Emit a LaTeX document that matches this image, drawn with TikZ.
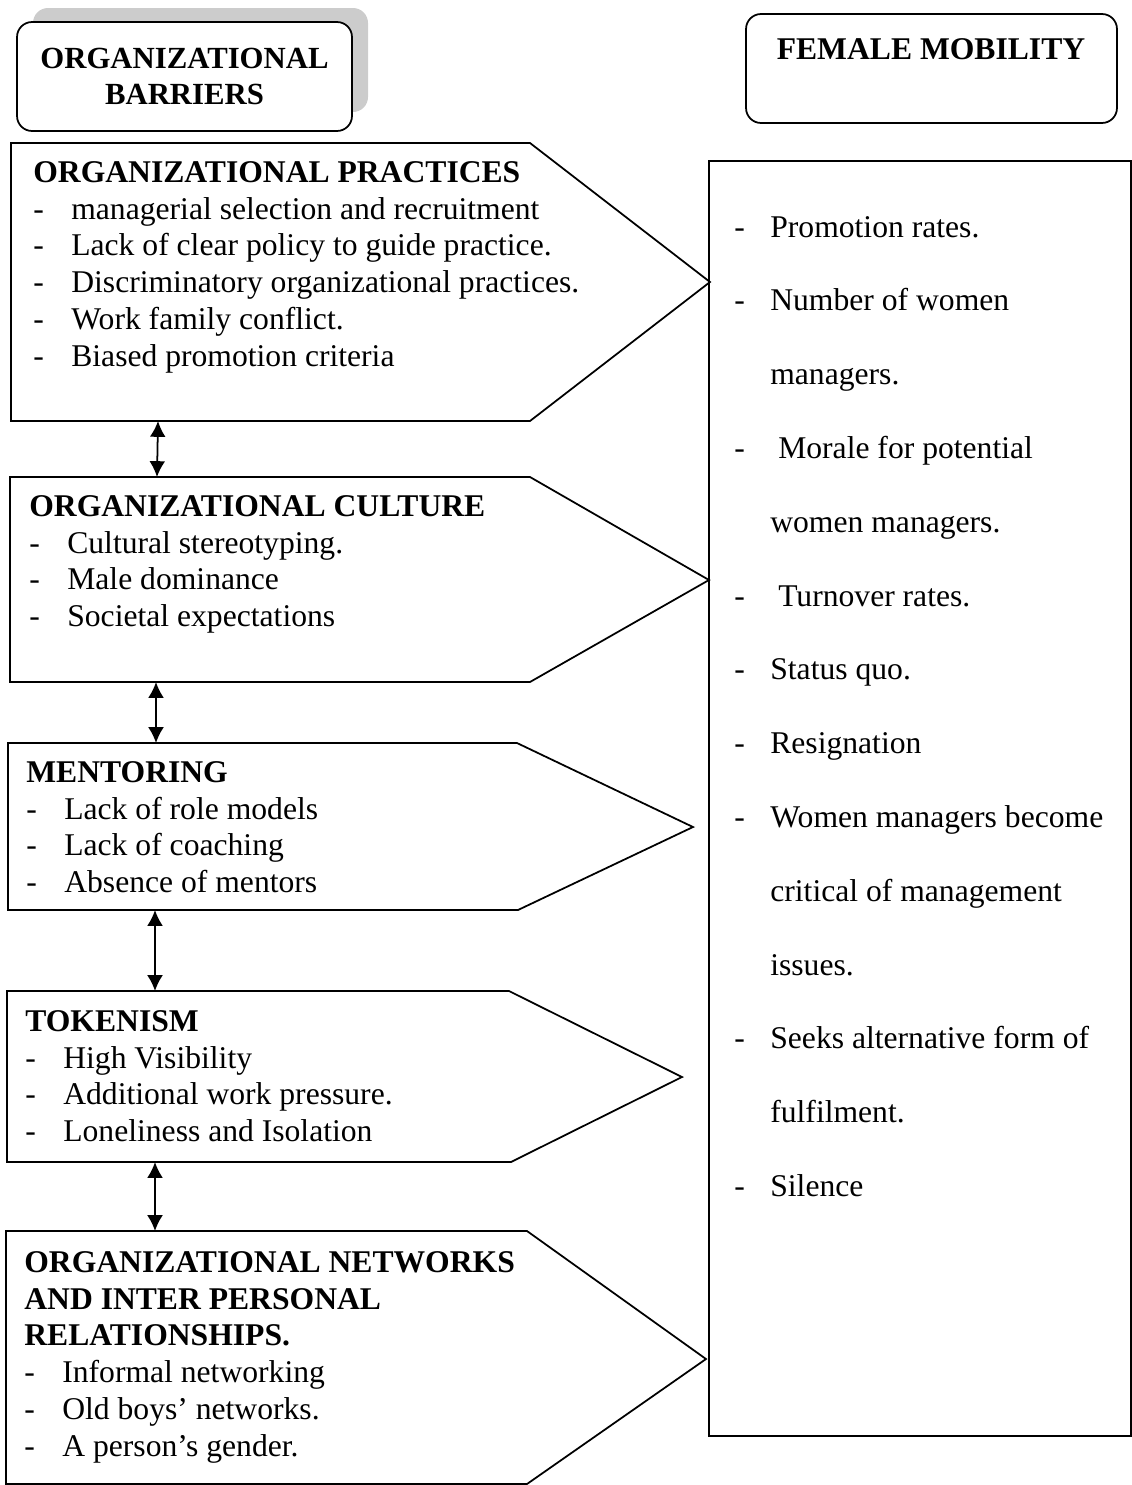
\documentclass[tikz,border=0pt]{standalone}
\usepackage{fontspec}
\setmainfont{Liberation Serif}
\usetikzlibrary{arrows.meta}
\newcommand{\itm}[2][0.76cm]{\makebox[#1][l]{-}#2}

\begin{document}
\begin{tikzpicture}[x=0.02cm, y=-0.02cm,
		frame/.style = {draw, line width=1pt},
		titlebox/.style = {frame, fill=white, rounded corners=0.3cm, inner sep=0pt,
			minimum width=6.7cm, minimum height=2.18cm},
		head/.style = {inner sep=0pt, font=\fontsize{18}{21}\selectfont\bfseries},
		txt/.style = {anchor=north west, inner sep=0pt, align=left,
			font=\fontsize{18}{21}\selectfont},
		link/.style = {{Latex[length=9pt,width=9pt]}-{Latex[length=9pt,width=9pt]}, line width=1pt}]
	\useasboundingbox (0,0) rectangle (1132,1485);

	% headings
	\fill[gray!40, rounded corners=0.3cm] (33,8) rectangle (368,112);
	\node[titlebox, align=center, font=\fontsize{17.5}{21}\selectfont\bfseries] (barriers) at (184.5,76.5)
		{ORGANIZATIONAL\\BARRIERS};
	\node[titlebox, minimum width=7.42cm] (mobility) at (931.5,68.5) {};
	\node[head, anchor=base] (mobility-title) at (931,59) {FEMALE MOBILITY};

	% outcomes
	\node[frame, anchor=north west, inner sep=0pt, minimum width=8.44cm, minimum height=25.5cm] (effects) at (708,160) {};
	\node[txt] (effects-list) at (734,211) {\strut\itm[0.72cm]{Promotion rates.}\\[21pt]
		\itm[0.72cm]{Number of women}\\[21pt]
		\hspace*{0.72cm}managers.\\[21pt]
		\itm[0.72cm]{\ Morale for potential}\\[21pt]
		\hspace*{0.72cm}women managers.\\[21pt]
		\itm[0.72cm]{\ Turnover rates.}\\[21pt]
		\itm[0.72cm]{Status quo.}\\[21pt]
		\itm[0.72cm]{Resignation}\\[21pt]
		\itm[0.72cm]{Women managers become}\\[21pt]
		\hspace*{0.72cm}critical of management\\[21pt]
		\hspace*{0.72cm}issues.\\[21pt]
		\itm[0.72cm]{Seeks alternative form of}\\[21pt]
		\hspace*{0.72cm}fulfilment.\\[21pt]
		\itm[0.72cm]{Silence}};

	% barriers
	\draw[frame] (11,143) -- (530,143) -- (710,282) coordinate (practices-tip) -- (530,421)
		-- (158,421) coordinate (practices-s) -- (11,421) -- cycle;
	\node[txt] (practices) at (33,156) {\strut\textbf{ORGANIZATIONAL PRACTICES}\\
		\itm{managerial selection and recruitment}\\
		\itm{Lack of clear policy to guide practice.}\\
		\itm{Discriminatory organizational practices.}\\
		\itm{Work family conflict.}\\
		\itm{Biased promotion criteria}};

	\draw[frame] (10,477) -- (157,477) coordinate (culture-n) -- (530,477) -- (709,580) -- (530,682)
		-- (156,682) coordinate (culture-s) -- (10,682) -- cycle;
	\node[txt] (culture) at (29,490) {\strut\textbf{ORGANIZATIONAL CULTURE}\\
		\itm{Cultural stereotyping.}\\
		\itm{Male dominance}\\
		\itm{Societal expectations}};

	\draw[frame] (8,743) -- (156,743) coordinate (mentoring-n) -- (517,743) -- (693,827) -- (518,910)
		-- (155,910) coordinate (mentoring-s) -- (8,910) -- cycle;
	\node[txt] (mentoring) at (26,756) {\strut\textbf{MENTORING}\\
		\itm{Lack of role models}\\
		\itm{Lack of coaching}\\
		\itm{Absence of mentors}};

	\draw[frame] (7,991) -- (155,991) coordinate (tokenism-n) -- (509,991) -- (682,1077) -- (511,1162)
		-- (155,1162) coordinate (tokenism-s) -- (7,1162) -- cycle;
	\node[txt] (tokenism) at (25,1005) {\strut\textbf{TOKENISM}\\
		\itm{High Visibility}\\
		\itm{Additional work pressure.}\\
		\itm{Loneliness and Isolation}};

	\draw[frame] (6,1231) -- (155,1231) coordinate (networks-n) -- (527,1231) -- (706,1359) -- (527,1484)
		-- (6,1484) -- cycle;
	\node[txt] (networks) at (24,1246) {\strut\textbf{ORGANIZATIONAL NETWORKS}\\
		\textbf{AND INTER PERSONAL}\\
		\textbf{RELATIONSHIPS.}\\
		\itm{Informal networking}\\
		\itm{Old boys’ networks.}\\
		\itm{A person’s gender.}};

	% links
	\draw[link] (practices-s) -- (culture-n);
	\draw[link] (culture-s) -- (mentoring-n);
	\draw[link] (mentoring-s) -- (tokenism-n);
	\draw[link] (tokenism-s) -- (networks-n);
\end{tikzpicture}
\end{document}
